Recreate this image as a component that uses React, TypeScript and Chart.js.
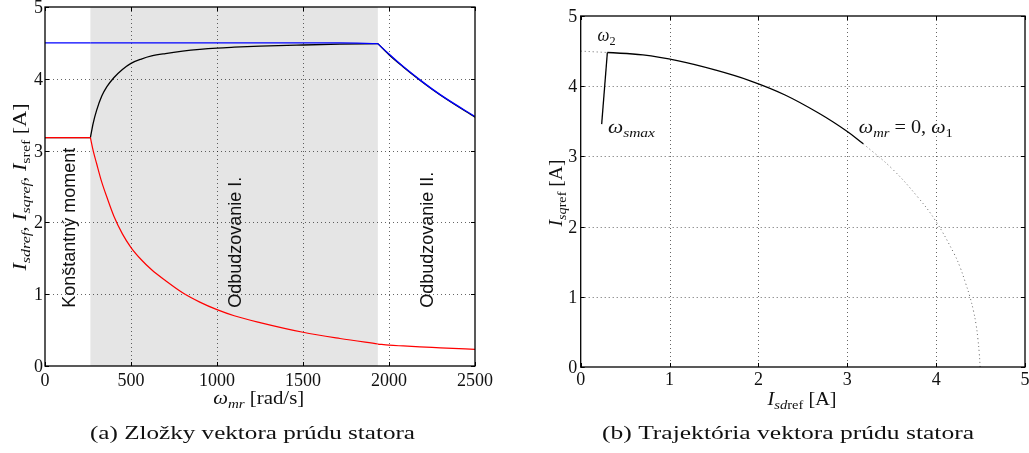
import { useEffect, useRef } from 'react';
import { Chart, registerables } from 'chart.js';
Chart.register(...registerables);

// ---------- data: chart (a) ----------
const omegaMr = [0, 264, 280, 300, 330, 360, 400, 450, 500, 560, 620, 700, 800, 900, 1000, 1100, 1250, 1500, 1715, 1935, 2000, 2083, 2180, 2250, 2335, 2500];
const iSdRef = [3.18, 3.18, 3.0, 2.82, 2.56, 2.35, 2.09, 1.84, 1.65, 1.48, 1.34, 1.19, 1.02, 0.89, 0.785, 0.7, 0.605, 0.47, 0.383, 0.306, 0.29, 0.279, 0.267, 0.259, 0.25, 0.232];
const iSqRef = [3.18, 3.18, 3.38, 3.56, 3.76, 3.89, 4.015, 4.13, 4.215, 4.275, 4.318, 4.352, 4.385, 4.41, 4.428, 4.44, 4.455, 4.471, 4.482, 4.49, 4.335, 4.165, 3.98, 3.855, 3.715, 3.465];
const iSRef = [4.5, 4.5, 4.5, 4.5, 4.5, 4.5, 4.5, 4.5, 4.5, 4.5, 4.5, 4.5, 4.5, 4.5, 4.5, 4.5, 4.5, 4.5, 4.5, 4.49, 4.345, 4.17, 3.985, 3.86, 3.72, 3.475];
const regionLimits = [264, 1935];
const regionLabels = ['Konštantný moment', 'Odbudzovanie I.', 'Odbudzovanie II.'];
const omegaTicks = [0, 500, 1000, 1500, 2000, 2500];
const currentTicks = [0, 1, 2, 3, 4, 5];

// ---------- data: chart (b) ----------
const arcSd = [0.3, 0.7, 1.1, 1.5, 1.9, 2.3, 2.7, 3.0, 3.18];
const arcSq = [4.48, 4.445, 4.36, 4.235, 4.08, 3.875, 3.6, 3.355, 3.18];
const fw2Sd = [0.3, 0.236];
const fw2Sq = [4.48, 3.46];
const limitSd = [3.18, 3.5, 3.8, 4.0, 4.2, 4.27, 4.33, 4.38, 4.42, 4.45, 4.47, 4.485, 4.495];
const limitSq = [3.18, 2.83, 2.41, 2.07, 1.62, 1.42, 1.2, 1.0, 0.8, 0.6, 0.4, 0.2, 0];
const capSd = [0, 0.3];
const capSq = [4.5, 4.48];
const sdTicks = [0, 1, 2, 3, 4, 5];

const captions = ['(a) Zložky vektora prúdu statora', '(b) Trajektória vektora prúdu statora'];

// ---------- helpers ----------
const SERIF = '"Liberation Serif", "Times New Roman", serif';
const SANS = '"Liberation Sans", Arial, sans-serif';
type Seg = [string, string, number];
const R = (t: string, s = 18): Seg => [t, `${s}px ${SERIF}`, 0];
const It = (t: string, s = 18): Seg => [t, `italic ${s}px ${SERIF}`, 0];
const SubI = (t: string): Seg => [t, `italic 13px ${SERIF}`, 4];
const SubR = (t: string): Seg => [t, `13px ${SERIF}`, 4];

function drawRich(ctx: CanvasRenderingContext2D, segs: Seg[], x: number, y: number, align: 'left' | 'center', width?: number, rot = 0) {
  ctx.save();
  ctx.translate(x, y);
  if (rot) ctx.rotate(rot);
  let w = 0;
  for (const [t, f] of segs) { ctx.font = f; w += ctx.measureText(t).width; }
  const k = width ? width / w : 1;
  ctx.scale(k, 1);
  let cx = align === 'center' ? -w / 2 : 0;
  ctx.textAlign = 'left';
  ctx.textBaseline = 'alphabetic';
  ctx.fillStyle = '#111';
  for (const [t, f, dy] of segs) { ctx.font = f; ctx.fillText(t, cx, dy); cx += ctx.measureText(t).width; }
  ctx.restore();
}

function pts(xs: number[], ys: number[]) {
  return xs.map((v, i) => ({ x: v, y: ys[i] }));
}

function split(xs: number[], ys: number[], limits: number[]) {
  const out: { x: number; y: number }[][] = [];
  let cur: { x: number; y: number }[] = [];
  xs.forEach((v, i) => {
    cur.push({ x: v, y: ys[i] });
    if (limits.includes(v) && cur.length > 1) { out.push(cur); cur = [{ x: v, y: ys[i] }]; }
  });
  if (cur.length > 1) out.push(cur);
  return out;
}

interface FrameCfg {
  id: string;
  xTicks: number[];
  yTicks: number[];
  yGap: number;
  xBase: number;
  shade?: number[];
  texts: (ctx: CanvasRenderingContext2D, px: (v: number) => number, py: (v: number) => number) => void;
}

function framePlugin(cfg: FrameCfg) {
  return {
    id: cfg.id,
    beforeDatasetsDraw(chart: any) {
      const { ctx, chartArea: a, scales } = chart;
      const x = scales.x, y = scales.y;
      ctx.save();
      if (cfg.shade) {
        const x0 = x.getPixelForValue(cfg.shade[0]);
        const x1 = x.getPixelForValue(cfg.shade[1]);
        ctx.fillStyle = '#e5e5e5';
        ctx.fillRect(x0, a.top, x1 - x0, a.bottom - a.top);
      }
      ctx.strokeStyle = 'rgba(0,0,0,0.6)';
      ctx.lineWidth = 1;
      ctx.setLineDash([1, 3]);
      cfg.xTicks.slice(1, -1).forEach((v) => {
        const p = Math.round(x.getPixelForValue(v)) + 0.5;
        ctx.beginPath(); ctx.moveTo(p, a.top); ctx.lineTo(p, a.bottom); ctx.stroke();
      });
      cfg.yTicks.slice(1, -1).forEach((v) => {
        const p = Math.round(y.getPixelForValue(v)) + 0.5;
        ctx.beginPath(); ctx.moveTo(a.left, p); ctx.lineTo(a.right, p); ctx.stroke();
      });
      ctx.restore();
    },
    afterDraw(chart: any) {
      const { ctx, chartArea: a, scales } = chart;
      const x = scales.x, y = scales.y;
      ctx.save();
      ctx.strokeStyle = '#000';
      ctx.lineWidth = 1.3;
      ctx.setLineDash([]);
      ctx.strokeRect(a.left, a.top, a.right - a.left, a.bottom - a.top);
      ctx.lineWidth = 1;
      const T = 4;
      cfg.xTicks.forEach((v) => {
        const p = Math.round(x.getPixelForValue(v)) + 0.5;
        ctx.beginPath();
        ctx.moveTo(p, a.bottom); ctx.lineTo(p, a.bottom - T);
        ctx.moveTo(p, a.top); ctx.lineTo(p, a.top + T);
        ctx.stroke();
      });
      cfg.yTicks.forEach((v) => {
        const p = Math.round(y.getPixelForValue(v)) + 0.5;
        ctx.beginPath();
        ctx.moveTo(a.left, p); ctx.lineTo(a.left + T, p);
        ctx.moveTo(a.right, p); ctx.lineTo(a.right - T, p);
        ctx.stroke();
      });
      ctx.fillStyle = '#111';
      ctx.font = `18px ${SERIF}`;
      ctx.textBaseline = 'alphabetic';
      ctx.textAlign = 'center';
      cfg.xTicks.forEach((v) => ctx.fillText(String(v), x.getPixelForValue(v), cfg.xBase));
      ctx.textAlign = 'right';
      cfg.yTicks.forEach((v) => ctx.fillText(String(v), a.left - cfg.yGap, y.getPixelForValue(v) + 6));
      ctx.restore();
      ctx.save();
      cfg.texts(ctx, (v) => x.getPixelForValue(v), (v) => y.getPixelForValue(v));
      ctx.restore();
    },
  };
}

function lineDs(data: { x: number; y: number }[], color: string, width: number, order: number, smooth: 'mono' | 'spline' | 'none', dash?: number[]) {
  return {
    data,
    showLine: true,
    borderColor: color,
    backgroundColor: color,
    borderWidth: width,
    pointRadius: 0,
    pointHoverRadius: 0,
    fill: false,
    cubicInterpolationMode: smooth === 'mono' ? ('monotone' as const) : ('default' as const),
    tension: smooth === 'spline' ? 0.4 : 0,
    borderDash: dash || [],
    order,
  };
}

function rotText(ctx: CanvasRenderingContext2D, t: string, x: number, y: number) {
  ctx.save();
  ctx.translate(x, y);
  ctx.rotate(-Math.PI / 2);
  ctx.font = `18px ${SANS}`;
  ctx.fillStyle = '#111';
  ctx.textAlign = 'left';
  ctx.textBaseline = 'alphabetic';
  ctx.fillText(t, 0, 0);
  ctx.restore();
}

export default function App() {
  const refA = useRef<HTMLCanvasElement>(null);
  const refB = useRef<HTMLCanvasElement>(null);

  useEffect(() => {
    document.body.style.margin = '0';
    document.body.style.background = '#fff';

    const dsA: any[] = [];
    split(omegaMr, iSRef, regionLimits).forEach((s) => dsA.push(lineDs(s, '#0000ff', 1.3, 1, 'mono')));
    split(omegaMr, iSdRef, regionLimits).forEach((s) => dsA.push(lineDs(s, '#ff0000', 1.2, 2, 'mono')));
    split(omegaMr, iSqRef, regionLimits).forEach((s) => dsA.push(lineDs(s, '#000000', 1.3, 3, 'mono')));

    const chartA = new Chart(refA.current!, {
      type: 'scatter',
      data: { datasets: dsA },
      options: {
        animation: false,
        responsive: false,
        events: [],
        layout: { padding: { left: 45, right: 45, top: 7, bottom: 87 } },
        plugins: { legend: { display: false }, tooltip: { enabled: false } },
        scales: {
          x: { type: 'linear', min: 0, max: 2500, display: false },
          y: { type: 'linear', min: 0, max: 5, display: false },
        },
      },
      plugins: [
        framePlugin({
          id: 'frameA',
          xTicks: omegaTicks,
          yTicks: currentTicks,
          yGap: 2,
          xBase: 386,
          shade: regionLimits,
          texts: (ctx, px, py) => {
            rotText(ctx, regionLabels[0], px(174), py(0.81));
            rotText(ctx, regionLabels[1], px(1138), py(0.81));
            rotText(ctx, regionLabels[2], px(2256), py(0.81));
            drawRich(ctx, [It('I'), SubI('sdref'), R(', '), It('I'), SubI('sqref'), R(', '), It('I'), SubR('sref'), R(' [A]')], 26, 187, 'center', 167, -Math.PI / 2);
            drawRich(ctx, [It('ω'), SubI('mr'), R(' [rad/s]')], 258.7, 404, 'center', 91);
            drawRich(ctx, [R(captions[0], 19)], 252.5, 439, 'center', 325);
          },
        }) as any,
      ],
    });

    const dsB: any[] = [
      lineDs(pts(arcSd, arcSq), '#000000', 1.3, 1, 'spline'),
      lineDs(pts(fw2Sd, fw2Sq), '#000000', 1.3, 1, 'none'),
      lineDs(pts(limitSd, limitSq), 'rgba(0,0,0,0.6)', 1, 2, 'spline', [1, 3]),
      lineDs(pts(capSd, capSq), 'rgba(0,0,0,0.6)', 1, 2, 'none', [1, 3]),
    ];

    const chartB = new Chart(refB.current!, {
      type: 'scatter',
      data: { datasets: dsB },
      options: {
        animation: false,
        responsive: false,
        events: [],
        layout: { padding: { left: 60.7, right: 4, top: 16, bottom: 86 } },
        plugins: { legend: { display: false }, tooltip: { enabled: false } },
        scales: {
          x: { type: 'linear', min: 0, max: 5, display: false },
          y: { type: 'linear', min: 0, max: 5, display: false },
        },
      },
      plugins: [
        framePlugin({
          id: 'frameB',
          xTicks: sdTicks,
          yTicks: currentTicks,
          yGap: 3.5,
          xBase: 385,
          texts: (ctx, px, py) => {
            drawRich(ctx, [It('ω'), SubR('2')], px(0.19), py(4.64), 'left', 18);
            drawRich(ctx, [It('ω'), SubI('smax')], px(0.307), py(3.33), 'left', 47);
            drawRich(ctx, [It('ω'), SubI('mr'), R(' = 0, '), It('ω'), SubR('1')], px(3.13), py(3.33), 'left', 94);
            drawRich(ctx, [It('I'), SubI('sq'), SubR('ref'), R(' [A]')], 42, 193, 'center', 67, -Math.PI / 2);
            drawRich(ctx, [It('I'), SubI('sd'), SubR('ref'), R(' [A]')], 282, 405, 'center', 69);
            drawRich(ctx, [R(captions[1], 19)], 268, 439, 'center', 372);
          },
        }) as any,
      ],
    });

    return () => {
      chartA.destroy();
      chartB.destroy();
    };
  }, []);

  return (
    <div style={{ position: 'fixed', left: 0, top: 0, width: 1029, height: 453, overflow: 'hidden', background: '#fff' }}>
      <canvas ref={refA} width={520} height={453} style={{ position: 'absolute', left: 0, top: 0, width: 520, height: 453 }} />
      <canvas ref={refB} width={509} height={453} style={{ position: 'absolute', left: 520, top: 0, width: 509, height: 453 }} />
    </div>
  );
}
